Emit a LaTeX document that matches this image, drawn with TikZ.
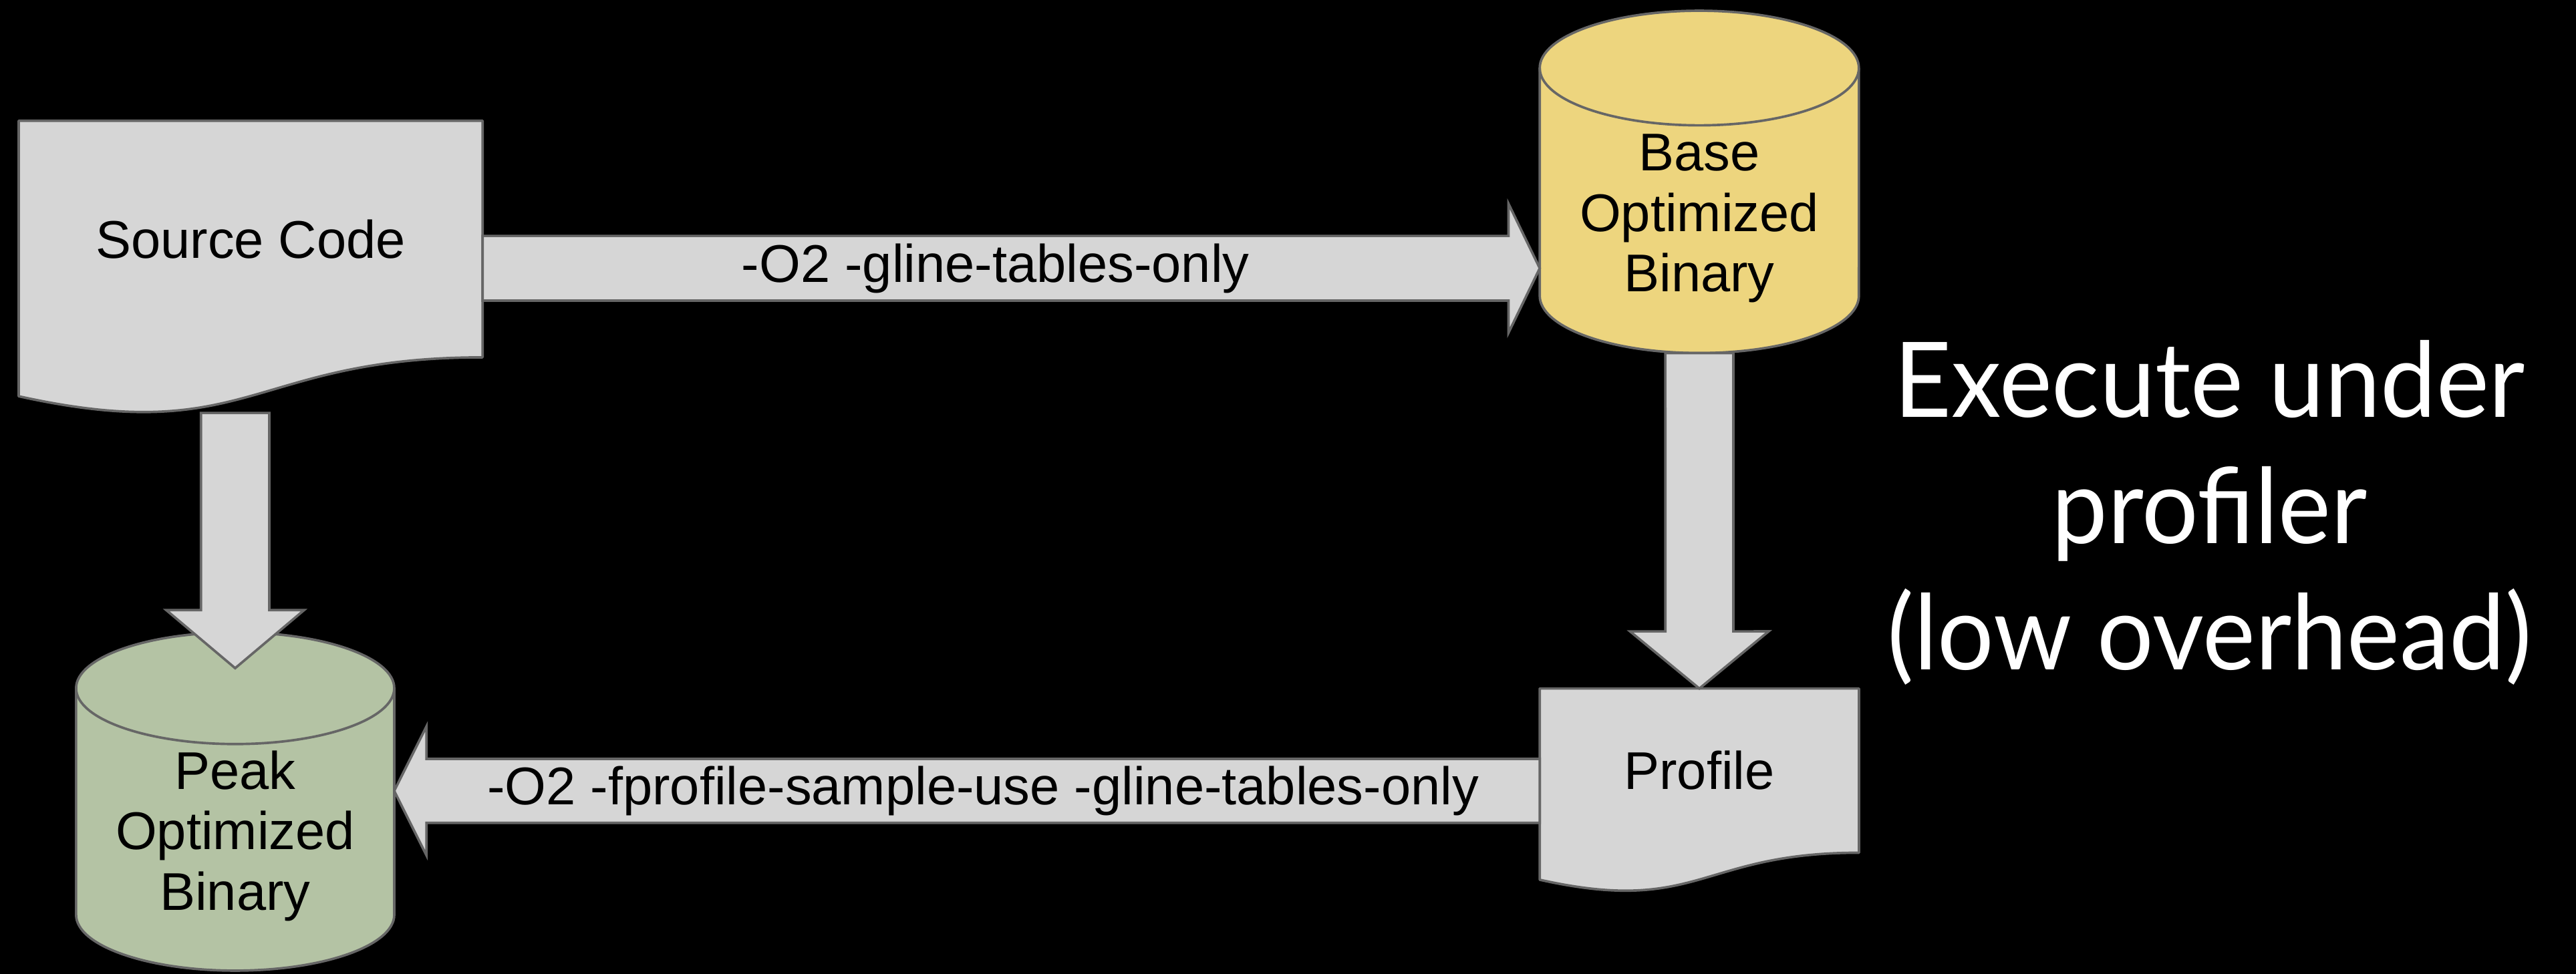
\documentclass[tikz,border=0pt]{standalone}
\usepackage{fontspec}
\setmainfont{Liberation Sans}
\newfontfamily\gillfont{Lato}
\usetikzlibrary{calc}
\definecolor{boxgray}{HTML}{D6D6D6}
\definecolor{edgegray}{HTML}{666666}
\definecolor{baseyellow}{HTML}{EDD57E}
\definecolor{peakgreen}{HTML}{B4C3A4}
\pgfdeclarelayer{back}
\pgfdeclarelayer{bg}
\pgfsetlayers{back,bg,main}
\tikzset{
  shapeline/.style={draw=edgegray, line width=0.85pt, line join=round},
  docbox/.style={shapeline, fill=boxgray},
  blk/.style={draw=edgegray, fill=boxgray, line width=0.85pt, line join=miter},
  txt/.style={font=\fontsize{18.4}{21}\selectfont, text=black, align=center, inner sep=0pt},
  area/.style={inner sep=0pt, outer sep=0pt},
  big/.style={font=\gillfont\fontsize{36.2}{44}\selectfont, text=white, inner sep=0pt, anchor=base, xscale=0.955, transform shape},
}
% #1 name, #2 from, #3 to, #4 shaft half width, #5 head half width, #6 head length
\newcommand\blockarrow[6]{%
  \coordinate (#1-h) at ($(#3)!#6!(#2)$);
  \draw[blk] ($(#2)!#4!90:(#3)$) -- ($(#1-h)!#4!90:(#3)$) -- ($(#1-h)!#5!90:(#3)$)
    -- (#3) -- ($(#1-h)!#5!-90:(#3)$) -- ($(#1-h)!#4!-90:(#3)$)
    -- ($(#2)!#4!-90:(#3)$) -- cycle;
}
\begin{document}
\begin{tikzpicture}[x=0.02cm,y=0.02cm]
\begin{pgfonlayer}{back}
  \fill[black] (0,0) rectangle (1568,593);
\end{pgfonlayer}
\useasboundingbox (0,0) rectangle (1568,593);

% nodes
\node[area, txt, minimum width=5.648cm, minimum height=2.882cm, anchor=north west] (src) at (11.4,519.5) {Source Code};
\node[area, minimum width=3.886cm, minimum height=4.17cm] (base) at (1034.35,482.25) {};
\node[txt] (basetxt) at ($(base.center)+(0,-22.25)$) {Base\\Optimized\\Binary};
\node[area, txt, minimum width=3.888cm, minimum height=2.0cm, anchor=north west] (prof) at (937.2,173.8) {Profile};
\node[area, minimum width=3.874cm, minimum height=4.12cm] (peak) at (143.15,105) {};
\node[txt] (peaktxt) at ($(peak.center)+(0,-21)$) {Peak\\Optimized\\Binary};

\begin{pgfonlayer}{bg}
  % documents
  \draw[docbox] (src.north west) -- (src.north east) -- (src.south east)
    .. controls (src.south) and ($(src.south)+(0,-54.9)$) .. ($(src.south west)+(0,-23.7)$) -- cycle;
  \draw[docbox] (prof.north west) -- (prof.north east) -- (prof.south east)
    .. controls (prof.south) and ($(prof.south)+(0,-38.1)$) .. ($(prof.south west)+(0,-16.46)$) -- cycle;
  % cylinders
  \draw[shapeline, fill=baseyellow] ($(base.north west)+(0,-34.9)$) -- ($(base.south west)+(0,34.9)$)
    arc[start angle=180, end angle=360, x radius=1.943cm, y radius=0.698cm]
    -- ($(base.north east)+(0,-34.9)$)
    arc[start angle=0, end angle=180, x radius=1.943cm, y radius=0.698cm] -- cycle;
  \draw[shapeline] ($(base.north west)+(0,-34.9)$)
    arc[start angle=180, end angle=360, x radius=1.943cm, y radius=0.698cm];
  \draw[shapeline, fill=peakgreen] ($(peak.north west)+(0,-34)$) -- ($(peak.south west)+(0,34)$)
    arc[start angle=180, end angle=360, x radius=1.937cm, y radius=0.68cm]
    -- ($(peak.north east)+(0,-34)$)
    arc[start angle=0, end angle=180, x radius=1.937cm, y radius=0.68cm] -- cycle;
  \draw[shapeline] ($(peak.north west)+(0,-34)$)
    arc[start angle=180, end angle=360, x radius=1.937cm, y radius=0.68cm];
\end{pgfonlayer}

% connectors (block arrows)
\coordinate (a1s) at ($(src.north east)!0.6234!(src.south east)$);
\coordinate (a1e) at (a1s -| base.west);
\blockarrow{a1}{a1s}{a1e}{0.394cm}{0.786cm}{0.38cm}
\node[txt] (l1) at ($(a1s)!0.5!(a1-h)$) {-O2 -gline-tables-only};

\coordinate (a2s0) at ($(src.north)!1.235!(src.south)$);
\coordinate (a2s) at (a2s0 -| peak.north);
\coordinate (a2e) at ($(peak.north)+(0,-21.8)$);
\blockarrow{a2}{a2s}{a2e}{0.416cm}{0.84cm}{0.708cm}

\blockarrow{a3}{base.south}{prof.north}{0.414cm}{0.844cm}{0.696cm}

\coordinate (a4s) at ($(prof.north west)!0.6234!(prof.south west)$);
\coordinate (a4e) at (a4s -| peak.east);
\blockarrow{a4}{a4s}{a4e}{0.39cm}{0.786cm}{0.392cm}
\node[txt] (l4) at ($(a4s)!0.5!(a4-h)$) {-O2 -fprofile-sample-use -gline-tables-only};

% side caption
\node[big] (ex1) at (1345,338.9) {Execute under};
\node[big] (ex2) at (1345,262) {profiler};
\node[big] (ex3) at (1345,185.3) {(low overhead)};
\end{tikzpicture}
\end{document}
